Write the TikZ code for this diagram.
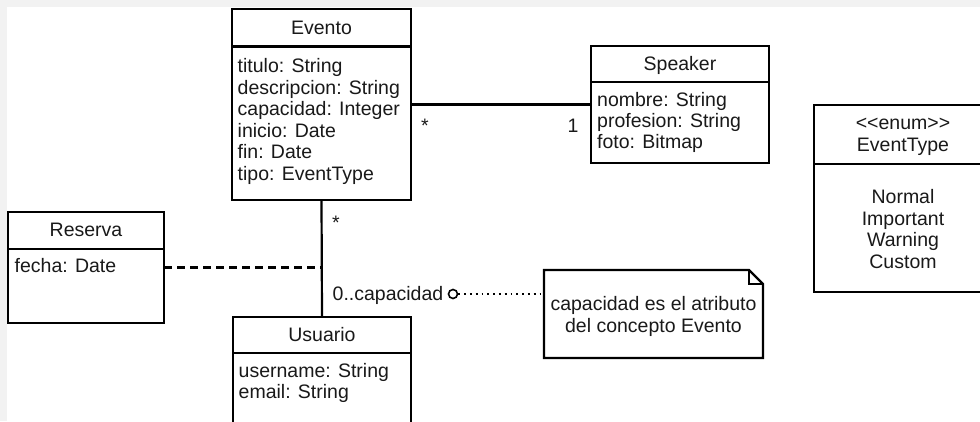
\documentclass[tikz,border=0pt]{standalone}
\usepackage{fontspec}
\setmainfont{Liberation Sans}
\begin{document}
\begin{tikzpicture}[x=1pt,y=-1pt,
  umlbox/.style={draw=black, line width=2.2pt, fill=white, rectangle,
    inner sep=0pt, outer sep=0pt, anchor=north west},
  sep/.style={draw=black, line width=2.2pt},
  lbl/.style={font=\fontsize{19.5}{21.5}\selectfont, inner sep=0pt, text=black!90},
  assoc/.style={draw=black, line width=2.2pt},
  assocdash/.style={draw=black, line width=2.2pt, dash pattern=on 8pt off 5pt},
  notelink/.style={draw=black, line width=1.8pt, dash pattern=on 1.8pt off 4pt},
  anchorring/.style={draw=black, line width=1.6pt, circle, fill=white,
    minimum size=9pt, inner sep=0pt}]
\useasboundingbox (0,0) rectangle (980,421);
\clip (0,0) rectangle (980,421);
% page background with a light frame at the top and left
\fill[black!5] (0,0) rectangle (980,421);
\fill[white] (7,7) rectangle (980,421);

% ---- Evento ----
\node[umlbox, minimum width=179pt, minimum height=191pt] (evento) at (232,9) {};
\draw[sep] ([yshift=-37.5pt]evento.north west) -- ([yshift=-37.5pt]evento.north east);
\node[lbl, anchor=base] (evento-title) at (321.5,34) {Evento};
\foreach \t [count=\i] in {titulo: String, descripcion: String, capacidad: Integer,
    inicio: Date, fin: Date, tipo: EventType}
  \node[lbl, anchor=base west] (evento-\i) at (237.5,{72.7+21.5*(\i-1)}) {\t};

% ---- Speaker ----
\node[umlbox, minimum width=178pt, minimum height=117pt] (speaker) at (591,46) {};
\draw[sep] ([yshift=-36pt]speaker.north west) -- ([yshift=-36pt]speaker.north east);
\node[lbl, anchor=base] (speaker-title) at (680,70.7) {Speaker};
\foreach \t [count=\i] in {nombre: String, profesion: String, foto: Bitmap}
  \node[lbl, anchor=base west] (speaker-\i) at (597,{106+21.2*(\i-1)}) {\t};

% ---- EventType (enumeration) ----
\node[umlbox, minimum width=178pt, minimum height=187pt] (eventtype) at (814,105) {};
\draw[sep] ([yshift=-59pt]eventtype.north west) -- ([yshift=-59pt]eventtype.north east);
\node[lbl, anchor=base] (eventtype-stereo) at (903,129.5) {<\kern0pt<enum>\kern0pt>};
\node[lbl, anchor=base] (eventtype-title) at (903,151.8) {EventType};
\foreach \t [count=\i] in {Normal, Important, Warning, Custom}
  \node[lbl, anchor=base] (eventtype-\i) at (903,{203.5+21.7*(\i-1)}) {\t};

% ---- Reserva ----
\node[umlbox, minimum width=156pt, minimum height=111pt] (reserva) at (8,212) {};
\draw[sep] ([yshift=-37pt]reserva.north west) -- ([yshift=-37pt]reserva.north east);
\node[lbl, anchor=base] (reserva-title) at (86,236.7) {Reserva};
\node[lbl, anchor=base west] (reserva-1) at (14.5,272.7) {fecha: Date};

% ---- Usuario ----
\node[umlbox, minimum width=178pt, minimum height=140pt] (usuario) at (233,317) {};
\draw[sep] ([yshift=-36pt]usuario.north west) -- ([yshift=-36pt]usuario.north east);
\node[lbl, anchor=base] (usuario-title) at (322,341.7) {Usuario};
\foreach \t [count=\i] in {username: String, email: String}
  \node[lbl, anchor=base west] (usuario-\i) at (238.5,{377.3+21.5*(\i-1)}) {\t};

% ---- Note ----
\coordinate (note-nw) at (544,270);
\node[inner sep=0pt, outer sep=0pt, minimum width=219pt,
  minimum height=88pt, anchor=north west] (note) at (note-nw) {};
\draw[line width=2.2pt, fill=white, line join=miter]
  (note.north west) -- ([xshift=-14pt]note.north east)
  -- ([yshift=-14pt]note.north east) -- (note.south east)
  -- (note.south west) -- cycle;
\draw[line width=1.8pt, line join=miter]
  ([xshift=-14pt]note.north east) -- ([xshift=-14pt,yshift=-14pt]note.north east)
  -- ([yshift=-14pt]note.north east);
\node[lbl, anchor=base] (note-1) at (653.5,310) {capacidad es el atributo};
\node[lbl, anchor=base] (note-2) at (653.5,332) {del concepto Evento};

% ---- Associations ----
\draw[assoc] (evento.east) -- (speaker.west);
\node[lbl, anchor=base] (mult-ev-sp) at (425,132.5) {*};
\node[lbl, anchor=base] (mult-sp) at (573,132.5) {1};

\draw[assoc] (evento.south) -- (usuario.north);
\node[lbl, anchor=base] (mult-ev-us) at (336,229) {*};
\node[lbl, anchor=base west] (mult-us) at (332.5,300) {0..capacidad};

% association class link
\coordinate (assoc-mid) at (reserva.east -| evento.south);
\draw[assocdash] (reserva.east) -- (assoc-mid);

% note attachment
\node[anchorring] (ring) at (453,294) {};
\draw[notelink] (ring.east) -- (ring.east -| note.west);
\end{tikzpicture}
\end{document}
